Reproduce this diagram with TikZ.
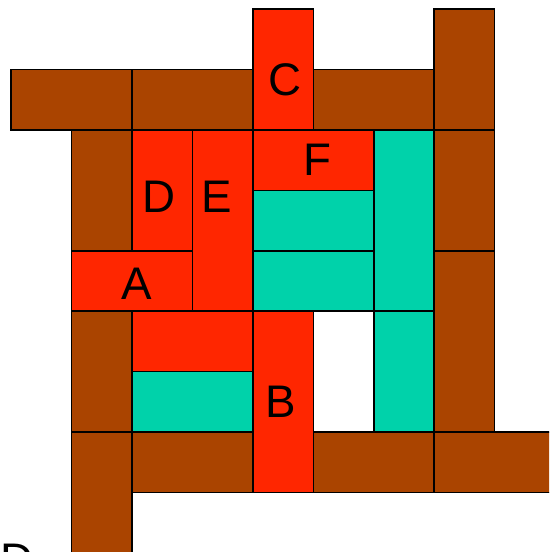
\documentclass[tikz,border=0pt]{standalone}
\usepackage{fontspec}
\setmainfont{Liberation Sans}
\definecolor{brownp}{RGB}{170,68,0}
\definecolor{redp}{RGB}{255,38,0}
\definecolor{tealp}{RGB}{0,210,170}
\tikzset{
  piece/.style={draw=black, line width=1.1pt},
  bp/.style={piece, fill=brownp},
  rp/.style={piece, fill=redp},
  tp/.style={piece, fill=tealp},
  lbl/.style={inner sep=0pt, font=\fontsize{33}{36}\selectfont}
}
\begin{document}
\begin{tikzpicture}[x=0.01in, y=-0.01in]
\useasboundingbox (0,0) rectangle (549,552);
\clip (0,0) rectangle (549,552);
% grid values
\def\ca{11}\def\cb{71.5}\def\cc{132}\def\cd{192.5}\def\ce{253}\def\cf{313.5}\def\cg{374}\def\ch{434}\def\ci{494.5}\def\cj{560}
\def\ra{9}\def\rb{69.5}\def\rc{130}\def\rd{190.5}\def\re{251}\def\rf{311}\def\rg{371.5}\def\rh{432}\def\ri{492.5}\def\rj{560}
% top row
\draw[bp] (\ca,\rb) rectangle (\cc,\rc);
\draw[bp] (\cc,\rb) rectangle (\ce,\rc);
\draw[rp] (\ce,\ra) rectangle (\cf,\rc);
\draw[bp] (\cf,\rb) rectangle (\ch,\rc);
\draw[bp] (\ch,\ra) rectangle (\ci,\rc);
% second band
\draw[bp] (\cb,\rc) rectangle (\cc,\re);
\draw[rp] (\cc,\rc) rectangle (\cd,\re);
\draw[rp] (\cd,\rc) rectangle (\ce,\rf);
\draw[rp] (\ce,\rc) rectangle (\cg,\rd);
\draw[tp] (\ce,\rd) rectangle (\cg,\re);
\draw[tp] (\ce,\re) rectangle (\cg,\rf);
\draw[tp] (\cg,\rc) rectangle (\ch,\rf);
\draw[bp] (\ch,\rc) rectangle (\ci,\re);
\draw[bp] (\ch,\re) rectangle (\ci,\rh);
\draw[rp] (\cb,\re) rectangle (\cd,\rf);
% third band
\draw[bp] (\cb,\rf) rectangle (\cc,\rh);
\draw[rp] (\cc,\rf) rectangle (\ce,\rg);
\draw[tp] (\cc,\rg) rectangle (\ce,\rh);
\draw[rp] (\ce,\rf) rectangle (\cf,\ri);
\draw[tp] (\cg,\rf) rectangle (\ch,\rh);
% bottom row
\draw[bp] (\cb,\rh) rectangle (\cc,\rj);
\draw[bp] (\cc,\rh) rectangle (\ce,\ri);
\draw[bp] (\cf,\rh) rectangle (\ch,\ri);
\draw[bp] (\ch,\rh) rectangle (\cj,\ri);
% labels
\node[lbl] (lC) at (285,80) {C};
\node[lbl] (lD) at (159,197) {D};
\node[lbl] (lE) at (217,197) {E};
\node[lbl] (lF) at (317,160) {F};
\node[lbl] (lA) at (137,284) {A};
\node[lbl] (lB) at (281,402) {B};
\node[lbl] (lD2) at (17,560) {D};
\end{tikzpicture}
\end{document}
